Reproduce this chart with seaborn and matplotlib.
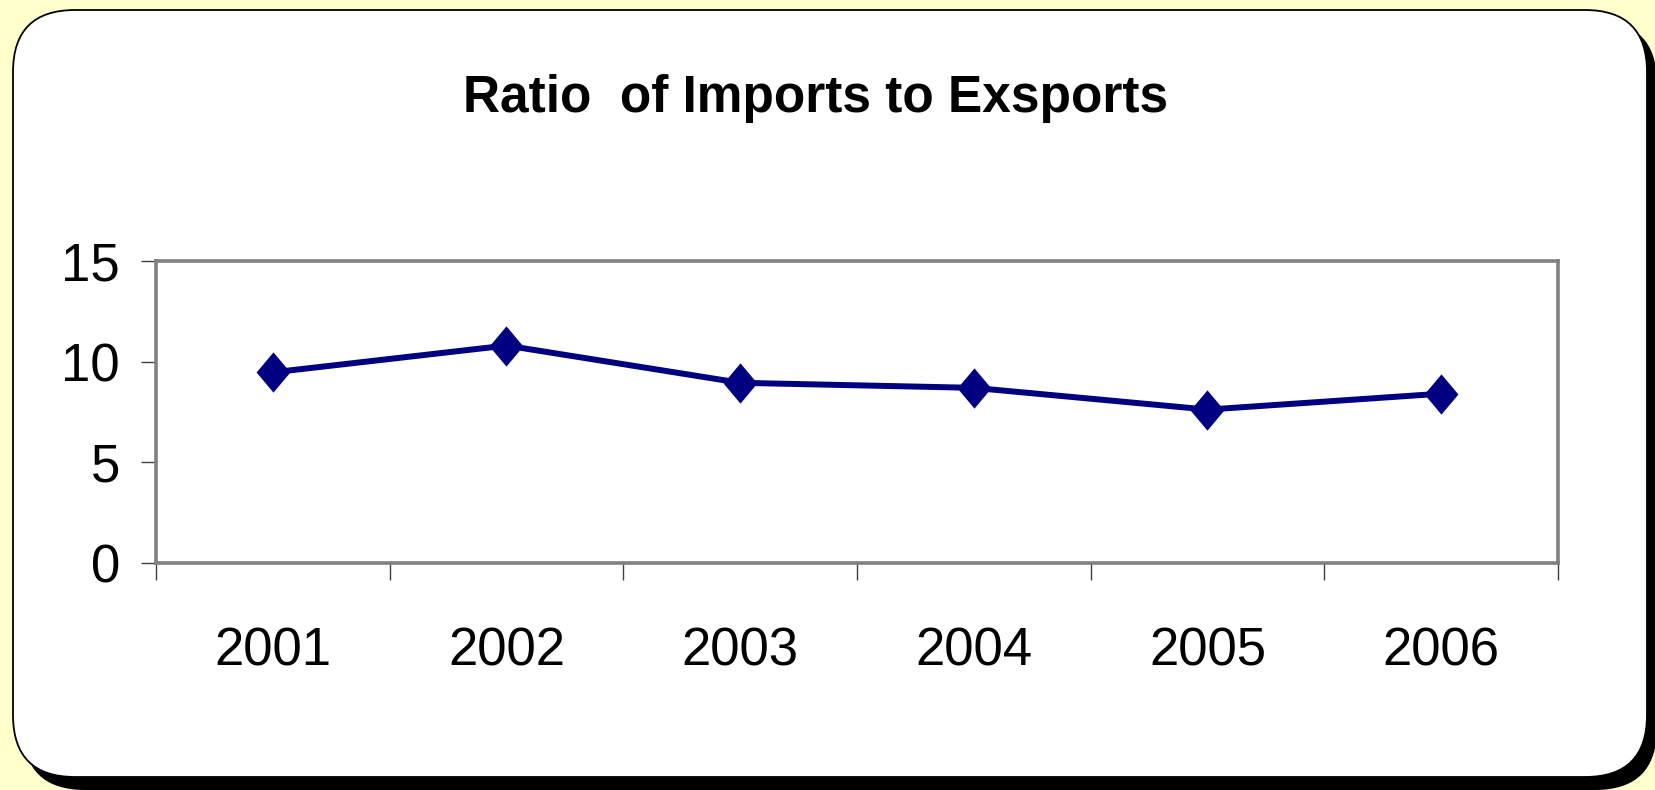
import numpy as np
import pandas as pd
import matplotlib
matplotlib.use('Agg')
import matplotlib.pyplot as plt
from matplotlib.patches import FancyBboxPatch
import seaborn as sns

# Chart data
years = ['2001', '2002', '2003', '2004', '2005', '2006']
ratio = [9.47, 10.8, 8.95, 8.7, 7.62, 8.41]
y_ticks = [0, 5, 10, 15]
title = 'Ratio  of Imports to Exsports'

df = pd.DataFrame({'year': years, 'ratio': ratio})

sns.set_style('white')
plt.rcParams['font.family'] = ['Liberation Sans', 'DejaVu Sans']
plt.rcParams['text.color'] = 'black'
plt.rcParams['xtick.color'] = 'black'
plt.rcParams['ytick.color'] = 'black'

W, H = 1656, 790
fig = plt.figure(figsize=(W / 100, H / 100), dpi=100)
fig.patch.set_facecolor('#FFFFCC')

# background panel: rounded white box with black drop shadow, in pixel units
bg = fig.add_axes([0, 0, 1, 1])
bg.set_xlim(0, W)
bg.set_ylim(H, 0)
bg.axis('off')
shadow = FancyBboxPatch((23, 21), 1634, 769, boxstyle='round,pad=0,rounding_size=62',
                        facecolor='black', edgecolor='none')
panel = FancyBboxPatch((13, 10), 1634, 767, boxstyle='round,pad=0,rounding_size=62',
                       facecolor='white', edgecolor='black', linewidth=1.3)
bg.add_patch(shadow)
bg.add_patch(panel)

# plot area
ax = fig.add_axes([156 / W, 1 - 563 / H, (1558 - 156) / W, (563 - 261) / H])
ax.set_facecolor('white')

diamond = [(0, 1), (0.84, 0), (0, -1), (-0.84, 0), (0, 1)]
sns.lineplot(data=df, x='year', y='ratio', color='#000080', linewidth=4.3,
             marker=diamond, markersize=29, markeredgewidth=0, ax=ax)

ax.set_xlim(-0.5, 5.5)
ax.set_ylim(0, 15)
ax.set_yticks(y_ticks)
ax.set_yticklabels([str(t) for t in y_ticks], fontsize=38)
ax.set_xticks(np.arange(-0.5, 6, 1))
ax.set_xticklabels([])
ax.set_xticks(np.arange(len(years)), minor=True)
ax.set_xticklabels(years, minor=True, fontsize=38)
ax.tick_params(axis='x', which='major', direction='out', length=12, width=1, color='#404040', bottom=True)
ax.tick_params(axis='x', which='minor', length=0, pad=46)
ax.tick_params(axis='y', direction='out', length=11, width=1, color='#404040', left=True, pad=15)
ax.set_xlabel('')
ax.set_ylabel('')

for side in ['top', 'right', 'bottom', 'left']:
    ax.spines[side].set_visible(True)
    ax.spines[side].set_color('#808080')
    ax.spines[side].set_linewidth(2.6)

fig.text(816 / W, 1 - 112 / H, title, ha='center', va='baseline',
         fontsize=37, fontweight='bold', color='black')

fig.savefig('out.png', dpi=100, facecolor=fig.get_facecolor())
